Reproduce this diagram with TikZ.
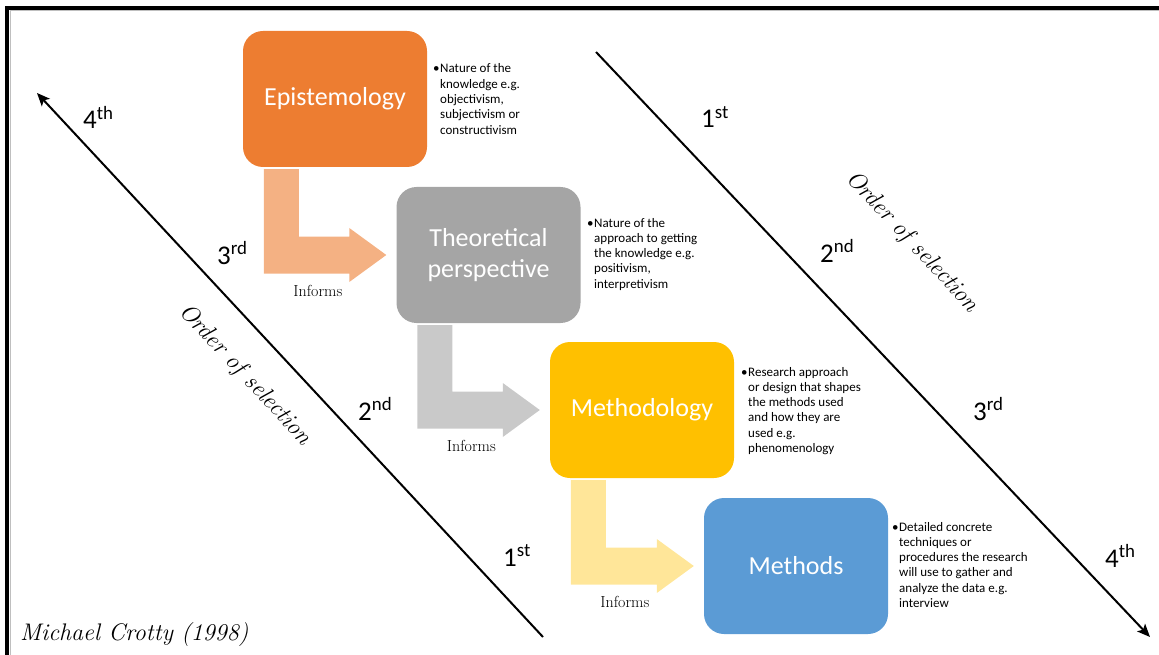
\documentclass[tikz,border=0pt]{standalone}
\usepackage{fontspec}
\newfontfamily\calibri{Carlito}
\usetikzlibrary{arrows.meta,calc}
\definecolor{epicol}{HTML}{ED7D31}
\definecolor{theocol}{HTML}{A5A5A5}
\definecolor{methcol}{HTML}{FFC000}
\definecolor{mtdscol}{HTML}{5B9BD5}
\definecolor{epilight}{HTML}{F4B183}
\definecolor{theolight}{HTML}{C9C9C9}
\definecolor{methlight}{HTML}{FFE699}

% L-shaped "Informs" arrow from the bottom of one box to the left side of the next
\newcommand\informsarrow[4]{%
  \fill[#3] let \p1=($(#1.south west)+(21,2)$), \p2=($(#2.west)+(-10,0)$) in
    (\x1,\y1) -- (\x1+35pt,\y1) -- (\x1+35pt,\y2+18.5pt) -- (\x2-37pt,\y2+18.5pt)
    -- (\x2-37pt,\y2+27pt) -- (\x2,\y2) -- (\x2-37pt,\y2-27pt) -- (\x2-37pt,\y2-18.5pt)
    -- (\x1,\y2-18.5pt) -- cycle
    (\x1+54pt,\y2-36pt) node[informs] (#4) {Informs};
}

\begin{document}
\begin{tikzpicture}[x=1pt,y=-1pt,
  stage/.style={rounded corners=20pt, minimum width=184pt, minimum height=136pt,
    text=white, font=\calibri\fontsize{26}{31}\selectfont, align=center, inner sep=0pt},
  note/.style={anchor=base west, inner sep=0pt, font=\calibri\fontsize{13}{15.3}\selectfont},
  ordinal/.style={anchor=base west, inner sep=0pt, font=\calibri\fontsize{27}{30}\selectfont},
  informs/.style={text=black, inner sep=0pt, font=\fontsize{16}{18}\selectfont},
  order/.style={inner sep=0pt, rotate=-47, font=\itshape\fontsize{24}{26}\selectfont},
  diag/.style={line width=2pt, -{Stealth[length=13pt,width=11pt,inset=3pt]}}]

\useasboundingbox (0,0) rectangle (1159,655);

% frame on the top and left edges
\draw[black!25, line width=1pt] (10,655) -- (10,11) -- (1159,11);
\draw[line width=4pt, line join=miter] (7,655) -- (7,8) -- (1159,8);

% the four levels
\node[stage, fill=epicol]  (epi)  at (335,99)    {Epistemology};
\node[stage, fill=theocol] (theo) at (488.5,255) {Theoretical\\perspective};
\node[stage, fill=methcol] (meth) at (642,410)   {Methodology};
\node[stage, fill=mtdscol] (mtds) at (796,566)   {Methods};

% descriptions
\node[note] (epinote) at (433,73) {\makebox[7pt][l]{\textbullet}\parbox[t]{150pt}{Nature of the\\knowledge e.g.\\objectivism,\\subjectivism or\\constructivism}};
\node[note] (theonote) at (587,227) {\makebox[7pt][l]{\textbullet}\parbox[t]{150pt}{Nature of the\\approach to getting\\the knowledge e.g.\\positivism,\\interpretivism}};
\node[note] (methnote) at (741,376) {\makebox[7pt][l]{\textbullet}\parbox[t]{150pt}{Research approach\\or design that shapes\\the methods used\\and how they are\\used e.g.\\phenomenology}};
\node[note] (mtdsnote) at (892,531) {\makebox[7pt][l]{\textbullet}\parbox[t]{150pt}{Detailed concrete\\techniques or\\procedures the research\\will use to gather and\\analyze the data e.g.\\interview}};

% informs arrows
\informsarrow{epi}{theo}{epilight}{inf1}
\informsarrow{theo}{meth}{theolight}{inf2}
\informsarrow{meth}{mtds}{methlight}{inf3}

% order of selection, bottom-up on the left
\coordinate (lstart) at (543,637);
\coordinate (lend) at (37,93);
\draw[diag] (lstart) -- (lend);
\node[ordinal] (l4) at (83,129)  {4\textsuperscript{th}};
\node[ordinal] (l3) at (217,264) {3\textsuperscript{rd}};
\node[ordinal] (l2) at (358,420) {2\textsuperscript{nd}};
\node[ordinal] (l1) at (503,566) {1\textsuperscript{st}};
\node[order] (lorder) at (245,375) {Order of selection};

% order of selection, top-down on the right
\coordinate (rstart) at (596,52);
\coordinate (rend) at (1150,637);
\draw[diag] (rstart) -- (rend);
\node[ordinal] (r1) at (701,128)  {1\textsuperscript{st}};
\node[ordinal] (r2) at (820,262)  {2\textsuperscript{nd}};
\node[ordinal] (r3) at (973,420)  {3\textsuperscript{rd}};
\node[ordinal] (r4) at (1105,567) {4\textsuperscript{th}};
\node[order] (rorder) at (912,242) {Order of selection};

% source
\node[anchor=base west, inner sep=0pt, font=\itshape\fontsize{24}{26}\selectfont] (cite) at (20,640) {Michael Crotty (1998)};

\end{tikzpicture}
\end{document}
